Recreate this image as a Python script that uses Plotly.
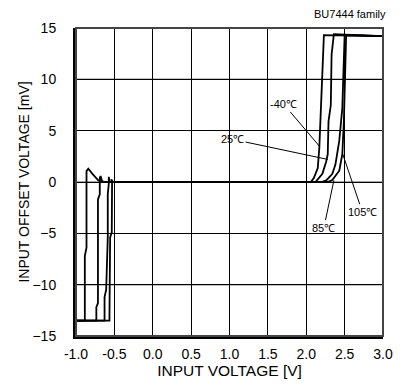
import plotly.graph_objects as go

# input offset voltage vs input voltage
temps = ["-40℃", "25℃", "85℃", "105℃"]

x_m40 = [-1.0, -0.885, -0.885, -0.863, -0.863, -0.84, -0.78, -0.71, -0.67,
         2.06, 2.10, 2.15, 2.17, 2.19, 2.21, 2.23, 3.0]
y_m40 = [-13.5, -13.5, -7.2, -6.4, 1.06, 1.3, 0.75, 0.16, 0.0,
         0.0, 0.4, 1.35, 3.3, 7.2, 9.8, 14.3, 14.2]

x_25 = [-1.0, -0.735, -0.735, -0.714, -0.714, -0.69, -0.69, -0.68, -0.66, -0.63,
        2.12, 2.15, 2.21, 2.26, 2.28, 2.29, 2.32, 2.33, 2.36, 3.0]
y_25 = [-13.5, -13.5, -12.2, -11.8, -1.7, -1.2, 0.4, 0.58, 0.1, 0.0,
        0.0, 0.26, 0.8, 2.0, 2.7, 5.9, 7.5, 12.4, 14.4, 14.2]

x_85 = [-1.0, -0.628, -0.628, -0.607, -0.586, -0.586, -0.573, -0.573, -0.56,
        2.20, 2.26, 2.34, 2.38, 2.43, 2.47, 2.49, 2.50, 3.0]
y_85 = [-13.5, -13.5, -11.2, -10.5, -5.4, -1.2, -0.2, 0.5, 0.0,
        0.0, 0.16, 0.8, 1.7, 4.0, 7.2, 12.4, 14.3, 14.2]

x_105 = [-1.0, -0.564, -0.564, -0.555, -0.534, -0.53, -0.54, -0.52,
         2.28, 2.34, 2.43, 2.47, 2.49, 2.51, 2.52, 3.0]
y_105 = [-13.5, -13.5, -13.0, -5.4, -4.9, 0.0, 0.26, 0.0,
         0.0, 0.2, 1.1, 2.7, 5.9, 10.7, 14.3, 14.2]

# label position and arrow tip for each temperature
label_x = [1.71, 1.04, 2.23, 2.73]
label_y = [7.55, 4.16, -4.45, -2.9]
tip_x = [2.17, 2.28, 2.36, 2.47]
tip_y = [3.5, 2.2, 0.16, 2.84]

x_ticks = [-1.0, -0.5, 0.0, 0.5, 1.0, 1.5, 2.0, 2.5, 3.0]
y_ticks = [-15, -10, -5, 0, 5, 10, 15]

FONT = "Liberation Sans, Arial, sans-serif"

fig = go.Figure()

for xs, ys, name in [(x_m40, y_m40, temps[0]), (x_25, y_25, temps[1]),
                     (x_85, y_85, temps[2]), (x_105, y_105, temps[3])]:
    fig.add_trace(go.Scatter(
        x=xs, y=ys, mode="lines", name=name,
        line=dict(color="black", width=1.8),
        showlegend=False
    ))

# grey horizontal grid lines at 0 and +/-10
for yv in [-10, 0, 10]:
    fig.add_shape(type="line", xref="paper", x0=0, x1=1, yref="y", y0=yv, y1=yv,
                  line=dict(color="#8a8a8a", width=1.5), layer="below")

# frame
fig.add_shape(type="rect", xref="paper", yref="paper", x0=0, y0=0, x1=1, y1=1,
              line=dict(color="#444", width=2))

for i in range(len(temps)):
    fig.add_annotation(
        x=tip_x[i], y=tip_y[i], ax=label_x[i], ay=label_y[i],
        axref="x", ayref="y", text=temps[i],
        showarrow=True, arrowhead=0, arrowwidth=1, arrowcolor="black",
        font=dict(family=FONT, size=11, color="black")
    )

fig.add_annotation(
    x=1.0, y=1.0, xref="paper", yref="paper", xanchor="right", yanchor="bottom",
    xshift=5, yshift=6, text="BU7444 family", showarrow=False,
    font=dict(family=FONT, size=11, color="black")
)

# page body has an 8px margin, so the figure is a bit smaller than the window
fig.update_layout(
    width=397, height=381,
    margin=dict(l=68, r=17, t=18, b=53),
    plot_bgcolor="white", paper_bgcolor="white",
    font=dict(family=FONT, size=14, color="black"),
    xaxis=dict(
        range=[-1.0, 3.0], tickvals=x_ticks, ticktext=[f"{v:.1f}" for v in x_ticks],
        showgrid=True, gridcolor="black", gridwidth=1, zeroline=False,
        showline=True, linecolor="black", linewidth=3,
        ticks="", ticklabelstandoff=3,
        title=dict(text="INPUT VOLTAGE [V]", standoff=3, font=dict(size=15.5))
    ),
    yaxis=dict(
        range=[-15, 15], tickvals=y_ticks,
        showgrid=True, gridcolor="black", gridwidth=1, zeroline=False,
        showline=True, linecolor="black", linewidth=3,
        ticks="", ticklabelstandoff=14,
        title=dict(text="INPUT OFFSET VOLTAGE [mV]", standoff=0, font=dict(size=14))
    ),
)

fig.write_html("out.html")
